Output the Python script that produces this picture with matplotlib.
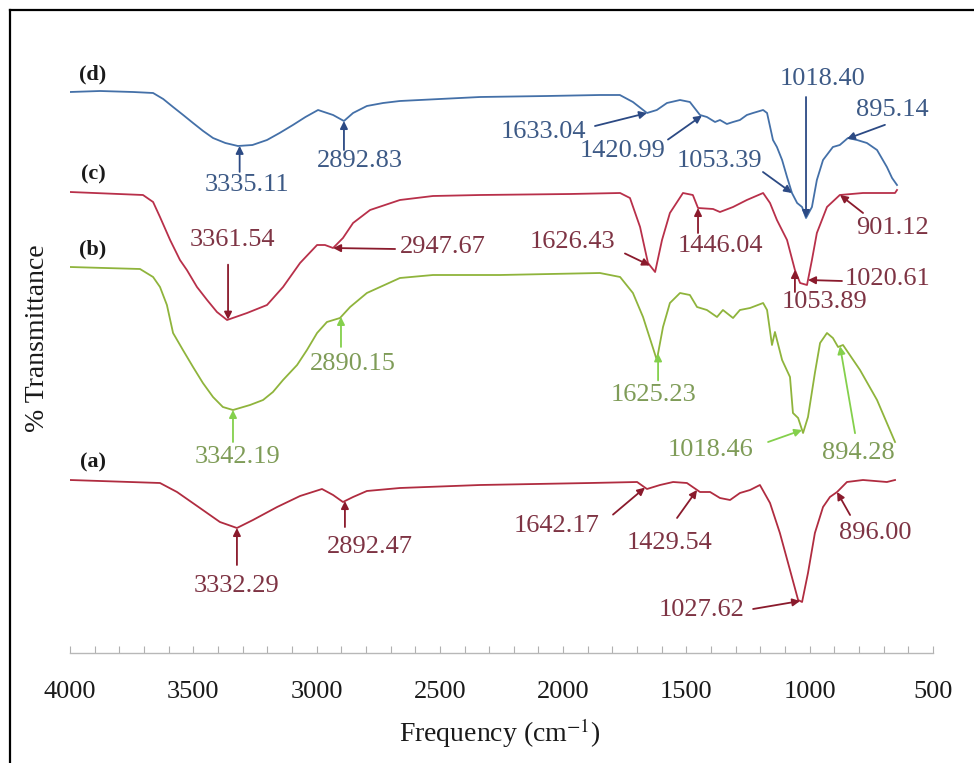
import numpy as np
import matplotlib
matplotlib.use("Agg")
from matplotlib import pyplot as plt
from matplotlib.ticker import MultipleLocator
from matplotlib.lines import Line2D

plt.rcParams['font.family'] = ['Liberation Serif', 'DejaVu Serif']
plt.rcParams['mathtext.fontset'] = 'stix'

# spectra, wavenumber (cm-1) and relative transmittance (arbitrary, stacked)
d_wn = [4000, 3878, 3744, 3663, 3622, 3582, 3541, 3501, 3460, 3420, 3370, 3319, 3260, 3201, 3150, 3096,
        3045, 2994, 2933, 2889, 2852, 2796, 2730, 2662, 2500, 2337, 2065, 1851, 1770, 1717, 1660, 1620,
        1579, 1526, 1486, 1445, 1417, 1384, 1364, 1336, 1311, 1283, 1255, 1230, 1189, 1173, 1149, 1133,
        1112, 1092, 1072, 1051, 1031, 1015, 991, 971, 946, 906, 878, 845, 808, 768, 727, 687, 666, 646]
d_T = [561, 562, 561, 560, 554, 546, 538, 530, 522, 515, 510, 507, 508, 513, 520, 528,
       536, 543, 538, 532, 540, 547, 550, 552, 554, 556, 557, 558, 558, 551, 540, 543,
       550, 553, 551, 538, 536, 531, 533, 529, 531, 533, 538, 540, 543, 540, 513, 506,
       493, 476, 460, 450, 446, 435, 446, 473, 493, 506, 508, 515, 513, 510, 503, 486, 475, 468]

c_wn = [4000, 3704, 3663, 3635, 3594, 3554, 3526, 3485, 3444, 3404, 3363, 3282, 3201, 3136, 3067, 2998,
        2966, 2933, 2893, 2852, 2783, 2662, 2528, 2337, 1972, 1769, 1729, 1688, 1656, 1627, 1599, 1567,
        1514, 1474, 1453, 1392, 1364, 1311, 1255, 1189, 1161, 1133, 1092, 1060, 1039, 1011, 991, 971,
        930, 878, 784, 654, 646]
c_T = [461, 458, 451, 436, 413, 393, 383, 366, 353, 341, 333, 340, 348, 366, 390, 408,
       408, 405, 415, 430, 443, 453, 457, 458, 459, 460, 455, 426, 390, 381, 413, 440,
       460, 458, 445, 444, 441, 446, 453, 460, 450, 433, 413, 383, 370, 368, 393, 420,
       446, 458, 460, 460, 463]

b_wn = [4000, 3716, 3663, 3635, 3607, 3582, 3542, 3501, 3461, 3420, 3380, 3339, 3270, 3217, 3177, 3136,
        3079, 3039, 2998, 2958, 2905, 2864, 2796, 2662, 2528, 2256, 1851, 1769, 1717, 1676, 1620, 1595,
        1567, 1526, 1486, 1457, 1417, 1376, 1352, 1311, 1283, 1242, 1189, 1173, 1153, 1141, 1112, 1080,
        1068, 1047, 1027, 1007, 979, 958, 930, 906, 885, 865, 796, 727, 654]
b_T = [386, 384, 376, 366, 348, 320, 303, 286, 270, 256, 246, 243, 248, 253, 261, 273,
       288, 303, 320, 331, 335, 346, 360, 375, 378, 378, 380, 376, 360, 336, 293, 326,
       350, 360, 358, 346, 343, 336, 343, 335, 343, 345, 350, 343, 308, 321, 293, 276,
       240, 235, 220, 236, 280, 310, 320, 315, 306, 308, 283, 253, 211]

a_wn = [4000, 3635, 3566, 3473, 3392, 3323, 3258, 3160, 3067, 2978, 2933, 2893, 2852, 2796, 2662, 2337,
        1891, 1700, 1660, 1607, 1554, 1498, 1445, 1404, 1364, 1323, 1283, 1242, 1202, 1161, 1121, 1080,
        1047, 1031, 1007, 979, 946, 918, 889, 849, 784, 687, 654]
a_T = [173, 170, 161, 145, 131, 125, 133, 146, 157, 164, 158, 151, 156, 162, 165, 168,
       170, 171, 164, 168, 171, 170, 161, 161, 155, 153, 160, 163, 168, 150, 120, 83,
       53, 51, 80, 120, 146, 156, 161, 171, 173, 171, 173]

# peak marks (where the arrows point) and their labels
d_marks = [3312, 2889, 1660, 1437, 1072, 1015, 849]
d_labels = ['3335.11', '2892.83', '1633.04', '1420.99', '1053.39', '1018.40', '895.14']
c_marks = [3359, 2933, 1648, 1453, 1060, 1007, 877]
c_labels = ['3361.54', '2947.67', '1626.43', '1446.04', '1053.89', '1020.61', '901.12']
b_marks = [3339, 2901, 1615, 1031, 877]
b_labels = ['3342.19', '2890.15', '1625.23', '1018.46', '894.28']
a_marks = [3323, 2885, 1668, 1457, 1039, 889]
a_labels = ['3332.29', '2892.47', '1642.17', '1429.54', '1027.62', '896.00']

# layout: arrow tail and text centre offsets from the tip, pixels (x right, y up)
d_tail = [(0, -26), (0, -29), (-52, -13), (-34, -24), (-29, 21), (0, 121), (38, 14)]
d_txt = [(7, -41), (16, -42), (-104, -21), (-79, -37), (-72, 30), (17, 137), (45, 27)]
c_tail = [(0, 55), (62, -1), (-25, 12), (0, -25), (0, -22), (34, -1), (23, -18)]
c_txt = [(4, 78), (110, -1), (-77, 21), (22, -40), (30, -34), (80, -1), (52, -35)]
b_tail = [(0, -32), (0, -30), (0, -27), (-34, -12), (15, -87)]
b_txt = [(5, -49), (12, -49), (-5, -44), (-92, -22), (18, -109)]
a_tail = [(0, -37), (0, -26), (-32, -27), (-20, -28), (-47, -8), (13, -23)]
a_txt = [(0, -60), (25, -48), (-88, -40), (-27, -55), (-98, -11), (38, -43)]

series = [
    ('(d)', d_wn, d_T, d_marks, d_labels, d_tail, d_txt, '#4470a8', '#2c4a84', '#3d5a86'),
    ('(c)', c_wn, c_T, c_marks, c_labels, c_tail, c_txt, '#b8304a', '#8a1a2c', '#7e3444'),
    ('(b)', b_wn, b_T, b_marks, b_labels, b_tail, b_txt, '#8fb43c', '#84d04c', '#7f9c58'),
    ('(a)', a_wn, a_T, a_marks, a_labels, a_tail, a_txt, '#b02c40', '#8a1a2c', '#7e3444'),
]

fig = plt.figure(figsize=(9.74, 7.63), dpi=100)
ax = fig.add_axes([70 / 974, 110 / 763, 863 / 974, 643 / 763])

for name, wn, T, marks, labels, tails, txts, lc, ac, tc in series:
    ax.plot(wn, T, color=lc, lw=1.3)
    ax.annotate(name, xy=(wn[0], T[0]), xytext=(23, 18), textcoords='offset pixels',
                ha='center', va='center', fontsize=16, fontweight='bold', color='#1a1a1a')
    yy = np.interp(marks, wn[::-1], T[::-1])
    for m, y, lab, tl, tx in zip(marks, yy, labels, tails, txts):
        ax.annotate('', xy=(m, y), xytext=tl, textcoords='offset pixels',
                    arrowprops=dict(arrowstyle='-|>', color=ac, lw=1.3,
                                    mutation_scale=11, shrinkA=0, shrinkB=0))
        ax.annotate(lab, xy=(m, y), xytext=(tx[0], tx[1] + 2), textcoords='offset pixels',
                    ha='center', va='center', fontsize=19, color=tc)

ax.set_xlim(4000, 500)
ax.set_ylim(0, 643)
ax.xaxis.set_major_locator(MultipleLocator(500))
ax.xaxis.set_minor_locator(MultipleLocator(100))
ax.tick_params(axis='x', which='both', direction='in', length=5, width=0.8,
               color='#b0b0b0', labelsize=19, labelcolor='#1a1a1a', pad=20)
ax.set_yticks([])
for s in ['left', 'right', 'top']:
    ax.spines[s].set_visible(False)
ax.spines['bottom'].set_color('#b8b8b8')
ax.spines['bottom'].set_linewidth(1.0)

fig.text(500 / 974, 30 / 763, 'Frequency (cm$^{-1}$)', ha='center', va='center',
         fontsize=20, color='#1a1a1a')
fig.text(38 / 974, 425 / 763, '% Transmittance', ha='center', va='center',
         rotation=90, fontsize=20, color='#1a1a1a')

# frame around the picture
fig.add_artist(Line2D([10 / 974, 10 / 974], [0, 753 / 763], color='black', lw=1.6))
fig.add_artist(Line2D([10 / 974, 1], [753 / 763, 753 / 763], color='black', lw=1.6))

fig.savefig('out.png', dpi=100)
